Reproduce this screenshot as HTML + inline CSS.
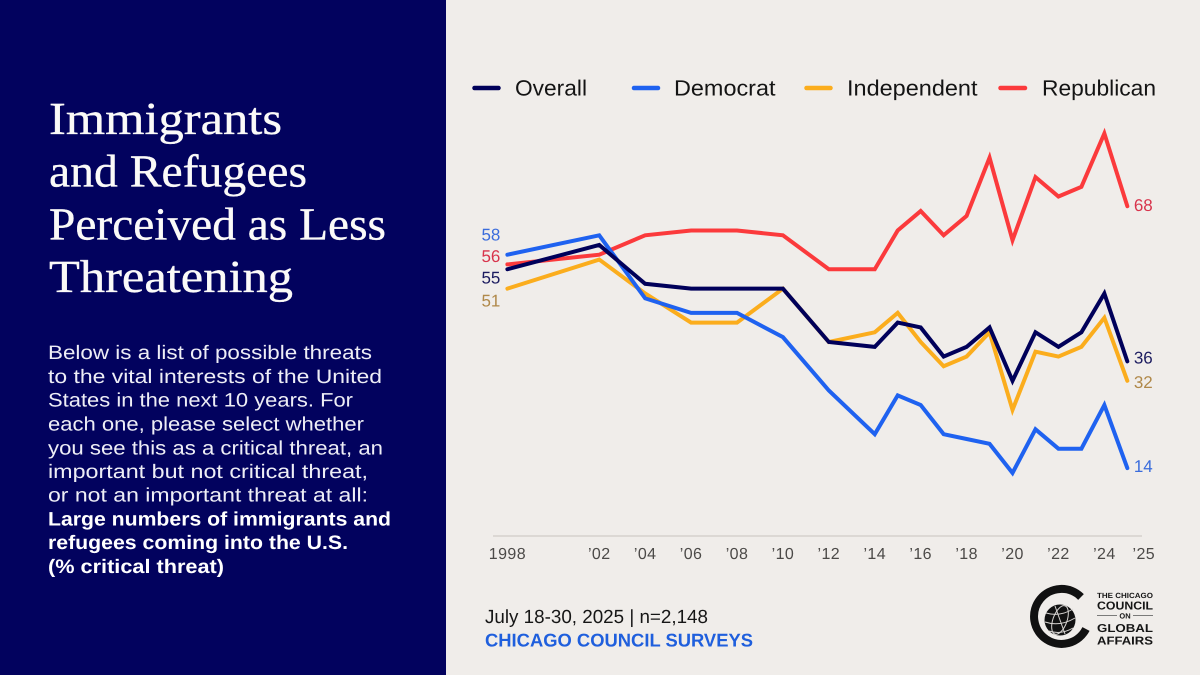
<!DOCTYPE html>
<html lang="en">
<head>
<meta charset="utf-8">
<title>Immigrants and Refugees Perceived as Less Threatening</title>
<style>
html,body{margin:0;padding:0;background:#f0edea;}
body{width:1200px;height:675px;overflow:hidden;}
svg{display:block;font-family:"Liberation Sans",sans-serif;text-rendering:geometricPrecision;}
.title{font-family:"Liberation Serif",serif;font-size:46px;fill:#fbfaf8;stroke:#fbfaf8;stroke-width:0.35px;}
.body{font-size:19.5px;fill:#eeeef6;}
.bold{font-size:19.5px;fill:#ffffff;font-weight:700;}
.legend{font-size:22px;fill:#141414;}
.tick{font-size:16px;fill:#4c4a48;letter-spacing:0.4px;}
.val{font-size:17px;}
.logo-b{font-size:11.5px;font-weight:700;fill:#151515;}
.logo-s{font-size:7.5px;font-weight:700;fill:#151515;}
</style>
</head>
<body>
<svg id="chart" width="1200" height="675" viewBox="0 0 1200 675" xmlns="http://www.w3.org/2000/svg">
  <rect x="0" y="0" width="1200" height="675" fill="#f0edea"/>
  <rect x="0" y="0" width="446" height="675" fill="#02025e"/>

  <g>
    <text class="title" x="49" y="134" textLength="233" lengthAdjust="spacingAndGlyphs">Immigrants</text>
    <text class="title" x="49" y="186.7" textLength="258" lengthAdjust="spacingAndGlyphs">and Refugees</text>
    <text class="title" x="49" y="239.3" textLength="337" lengthAdjust="spacingAndGlyphs">Perceived as Less</text>
    <text class="title" x="49" y="292" textLength="244" lengthAdjust="spacingAndGlyphs">Threatening</text>
  </g>

  <g>
    <text class="body" x="48" y="359" textLength="324" lengthAdjust="spacingAndGlyphs">Below is a list of possible threats</text>
    <text class="body" x="48" y="383" textLength="334" lengthAdjust="spacingAndGlyphs">to the vital interests of the United</text>
    <text class="body" x="48" y="406.7" textLength="305" lengthAdjust="spacingAndGlyphs">States in the next 10 years. For</text>
    <text class="body" x="48" y="430.5" textLength="316" lengthAdjust="spacingAndGlyphs">each one, please select whether</text>
    <text class="body" x="48" y="454.3" textLength="335" lengthAdjust="spacingAndGlyphs">you see this as a critical threat, an</text>
    <text class="body" x="48" y="478" textLength="320" lengthAdjust="spacingAndGlyphs">important but not critical threat,</text>
    <text class="body" x="48" y="501.7" textLength="320" lengthAdjust="spacingAndGlyphs">or not an important threat at all:</text>
    <text class="bold" x="48" y="525.5" textLength="343" lengthAdjust="spacingAndGlyphs">Large numbers of immigrants and</text>
    <text class="bold" x="48" y="549.2" textLength="300" lengthAdjust="spacingAndGlyphs">refugees coming into the U.S.</text>
    <text class="bold" x="48" y="573" textLength="176" lengthAdjust="spacingAndGlyphs">(% critical threat)</text>
  </g>

  <g>
    <g>
      <line x1="474.5" y1="88" x2="498.5" y2="88" stroke="#00005a" stroke-width="4.5" stroke-linecap="round"/>
      <text class="legend" x="515" y="95.5" textLength="72" lengthAdjust="spacingAndGlyphs">Overall</text>
    </g>
    <g>
      <line x1="634" y1="88" x2="658" y2="88" stroke="#1f62f0" stroke-width="4.5" stroke-linecap="round"/>
      <text class="legend" x="674" y="95.5" textLength="101.500" lengthAdjust="spacingAndGlyphs">Democrat</text>
    </g>
    <g>
      <line x1="806.500" y1="88" x2="830.500" y2="88" stroke="#fbad1d" stroke-width="4.5" stroke-linecap="round"/>
      <text class="legend" x="847" y="95.5" textLength="130.500" lengthAdjust="spacingAndGlyphs">Independent</text>
    </g>
    <g>
      <line x1="1000.500" y1="88" x2="1025" y2="88" stroke="#fb3a3c" stroke-width="4.5" stroke-linecap="round"/>
      <text class="legend" x="1042" y="95.5" textLength="114" lengthAdjust="spacingAndGlyphs">Republican</text>
    </g>
  </g>

  <line x1="493" y1="536" x2="1142" y2="536" stroke="#d5d1cd" stroke-width="1.5"/>
  <g id="x-ticks"></g>
  <g id="series-layer"></g>

  <g>
    <text x="485" y="623" font-size="19" fill="#161616" textLength="223" lengthAdjust="spacingAndGlyphs">July 18-30, 2025 | n=2,148</text>
    <text x="485" y="646.7" font-size="18.500" font-weight="700" fill="#1f5fdd" textLength="268" lengthAdjust="spacingAndGlyphs">CHICAGO COUNCIL SURVEYS</text>
  </g>

  <g>
    <path d="M1081 597 A27.500 27.500 0 1 0 1086 629" fill="none" stroke="#111111" stroke-width="8"/>
    <circle cx="1060" cy="620" r="15.500" fill="#111111"/>
    <g fill="none" stroke="#d8d5d2" stroke-width="1">
      <ellipse cx="1060" cy="620" rx="7" ry="15" transform="rotate(20 1060 620)"/>
      <line x1="1055" y1="606" x2="1065" y2="634"/>
      <path d="M1046 613 Q1060 617 1073 609"/>
      <path d="M1045 622 Q1060 627 1075 618"/>
      <path d="M1049 631 Q1061 635 1073 628"/>
    </g>
    <text class="logo-s" x="1097" y="598" textLength="56" lengthAdjust="spacingAndGlyphs">THE CHICAGO</text>
    <text class="logo-b" x="1097" y="609.500" textLength="56" lengthAdjust="spacingAndGlyphs">COUNCIL</text>
    <line x1="1097" y1="615.500" x2="1117" y2="615.500" stroke="#555" stroke-width="0.7"/>
    <text class="logo-s" x="1125" y="618.500" text-anchor="middle">ON</text>
    <line x1="1133" y1="615.500" x2="1153" y2="615.500" stroke="#555" stroke-width="0.7"/>
    <text class="logo-b" x="1097" y="632" textLength="56" lengthAdjust="spacingAndGlyphs">GLOBAL</text>
    <text class="logo-b" x="1097" y="644.500" textLength="56" lengthAdjust="spacingAndGlyphs">AFFAIRS</text>
  </g>
</svg>

<script>
const years = [1998,2002,2004,2006,2008,2010,2012,2014,2015,2016,2017,2018,2019,2020,2021,2022,2023,2024,2025];
const overall = [55,60,52,51,51,51,40,39,44,43,37,39,43,32,42,39,42,50,36];
const democrat = [58,62,49,46,46,41,30,21,29,27,21,20,19,13,22,18,18,27,14];
const independent = [51,57,50,44,44,51,40,42,46,40,35,37,42,26,38,37,39,45,32];
const republican = [56,58,62,63,63,62,55,55,63,67,62,66,78,61,74,70,72,83,68];
const tickYears = [1998,2002,2004,2006,2008,2010,2012,2014,2016,2018,2020,2022,2024,2025];
const tickLabels = ["1998","\u201902","\u201904","\u201906","\u201908","\u201910","\u201912","\u201914","\u201916","\u201918","\u201920","\u201922","\u201924","\u201925"];

const NS = "http://www.w3.org/2000/svg";
function xScale(year){ return 507.4 + (year - 1998) * 22.96; }
function yScale(value){ return 536 - value * 4.85; }

const tickLayer = document.getElementById("x-ticks");
tickYears.forEach(function(year, i){
  const t = document.createElementNS(NS, "text");
  
  
  t.setAttribute("class", "tick");
  t.setAttribute("x", xScale(year) + (year === 2025 ? 16.5 : 0));
  t.setAttribute("y", 559);
  t.setAttribute("text-anchor", "middle");
  t.textContent = tickLabels[i];
  tickLayer.appendChild(t);
});

const layer = document.getElementById("series-layer");
function drawLine(values, color){
  const p = document.createElementNS(NS, "polyline");
  
  
  p.setAttribute("points", values.map(function(v, i){ return xScale(years[i]) + "," + yScale(v); }).join(" "));
  p.setAttribute("fill", "none");
  p.setAttribute("stroke", color);
  p.setAttribute("stroke-width", "4");
  p.setAttribute("stroke-linejoin", "miter");
  p.setAttribute("stroke-linecap", "round");
  layer.appendChild(p);
}
function drawValue(value, year, dx, dy, anchor, color){
  const t = document.createElementNS(NS, "text");
  
  
  t.setAttribute("class", "val");
  t.setAttribute("x", xScale(year) + dx);
  t.setAttribute("y", yScale(value) + dy);
  t.setAttribute("text-anchor", anchor);
  t.setAttribute("fill", color);
  t.textContent = String(value);
  layer.appendChild(t);
}
function drawSeries(values, color, labelColor, startDy, endDy){
  drawLine(values, color);
  drawValue(values[0], years[0], -7, startDy, "end", labelColor);
  drawValue(values[values.length - 1], years[years.length - 1], 6.5, endDy, "start", labelColor);
}
drawSeries(independent, "#fbad1d", "#b0894a", 18, 7);
drawSeries(republican, "#fb3a3c", "#d8344c", -2.4, 5);
drawSeries(democrat, "#1f62f0", "#3a6cdc", -14, 4);
drawSeries(overall, "#00005a", "#1c1c60", 14, 2);
</script>
</body>
</html>
